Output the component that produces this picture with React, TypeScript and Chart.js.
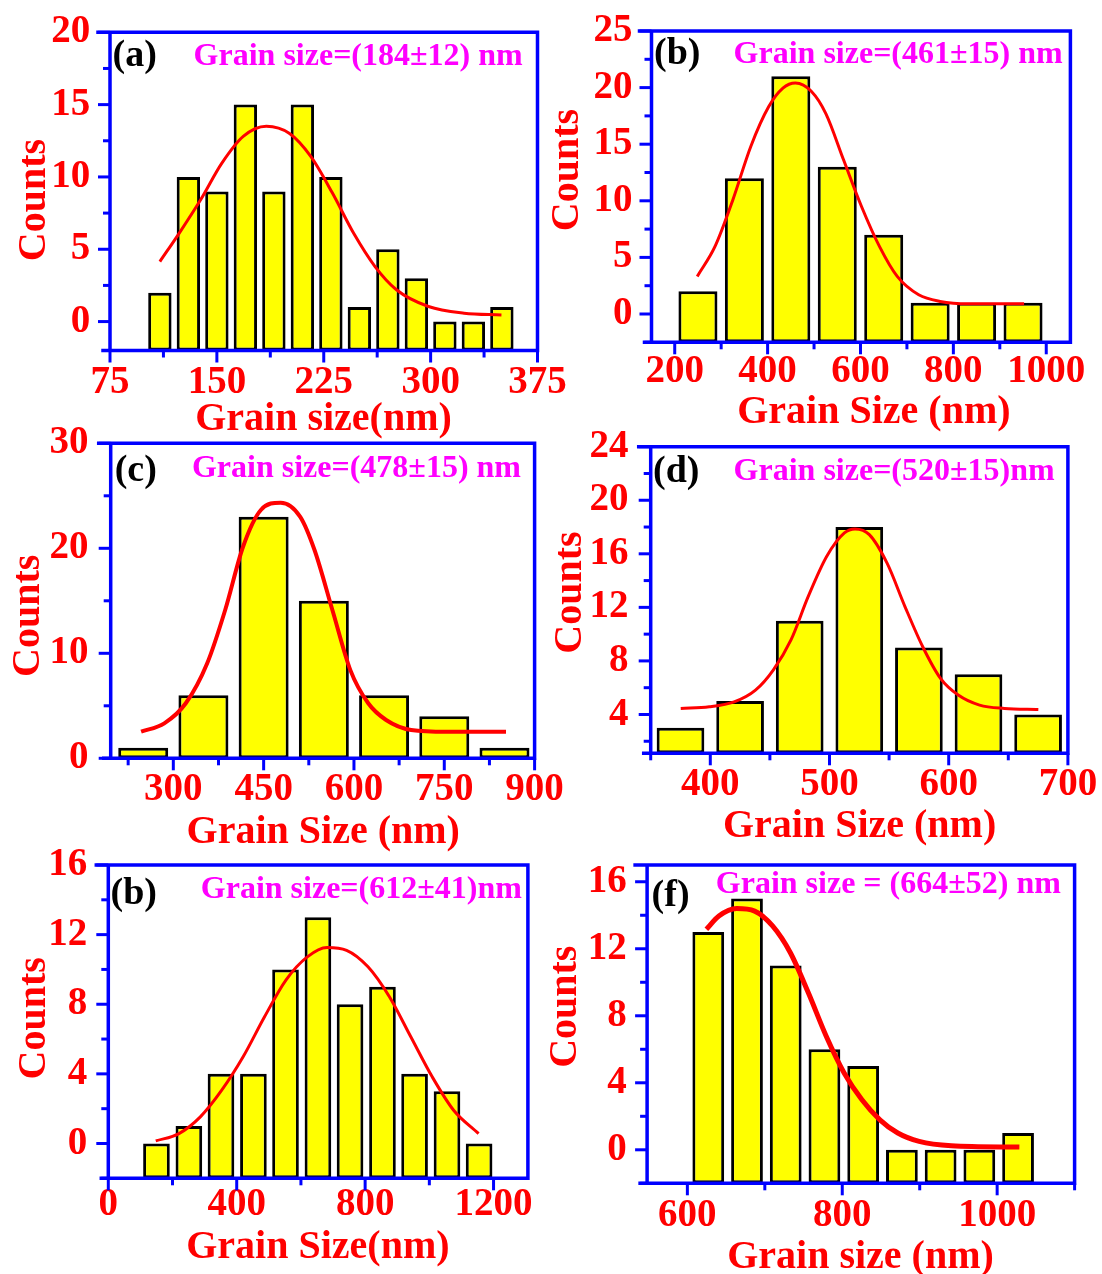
import React, { useEffect, useRef } from 'react';
import { Chart, registerables } from 'chart.js';

Chart.register(...registerables);

const W = 1102;
const H = 1274;
const FONT = "'Liberation Serif', 'Times New Roman', serif";
const BLUE = '#0000ff';
const RED = '#ff0000';
const MAGENTA = '#ff00ff';
const YELLOW = '#ffff00';

// (a) histogram and Gaussian fit
const sizesA = [110, 130, 150, 170, 190, 210, 230, 250, 270, 290, 310, 330, 350];
const countsA = [2, 10, 9, 15, 9, 15, 10, 1, 5, 3, 0, 0, 1];
const fitXA = [110, 123.5, 138.5, 153.5, 168.5, 184.7, 201, 216, 231, 246, 261, 276, 298.5, 323.5, 349.7];
const fitYA = [4.15, 6.1, 8.4, 10.95, 12.8, 13.5, 13.0, 11.4, 8.9, 6.1, 3.8, 2.2, 1.04, 0.58, 0.46];
const xTicksA = [75, 150, 225, 300, 375];
const yTicksA = [0, 5, 10, 15, 20];

// (b)
const sizesB = [250, 350, 450, 550, 650, 750, 850, 950];
const countsB = [2, 12, 21, 13, 7, 1, 1, 1];
const fitXB = [248.5, 286.8, 325.3, 363.8, 402.2, 433, 459.9, 494.5, 525.4, 563.7, 602.2, 640.8, 679.1, 725.3, 771.4, 833, 952.3];
const fitYB = [3.32, 5.97, 10.1, 14.8, 18.3, 19.95, 20.4, 19.65, 17.7, 13.6, 9.5, 5.97, 3.32, 1.7, 1.11, 0.9, 0.9];
const xTicksB = [200, 400, 600, 800, 1000];
const yTicksB = [0, 5, 10, 15, 20, 25];

// (c)
const sizesC = [250, 350, 450, 550, 650, 750, 850];
const countsC = [1, 6, 23, 15, 6, 4, 1];
const fitXC = [246.5, 285, 320.7, 356.3, 386, 415.8, 445.4, 478.2, 510.8, 534.5, 564.3, 594, 623.7, 653.4, 695, 754.4, 852.5];
const fitYC = [2.53, 3.33, 5.24, 9.05, 14.1, 20.15, 23.65, 24.35, 23.0, 19.84, 14.1, 8.4, 5.24, 3.65, 2.7, 2.53, 2.53];
const xTicksC = [300, 450, 600, 750, 900];
const yTicksC = [0, 10, 20, 30];

// (d)
const sizesD = [375, 425, 475, 525, 575, 625, 675];
const countsD = [3, 5, 11, 18, 9, 7, 4];
const fitXD = [375.2, 399.1, 420, 437.9, 452.8, 467.7, 482.1, 497.6, 512.5, 521.4, 533.4, 548.3, 563.3, 578.2, 593.1, 608, 625.9, 646.8, 675.2];
const fitYD = [4.45, 4.57, 4.94, 5.82, 7.32, 9.57, 12.8, 15.8, 17.56, 17.86, 17.43, 15.3, 12.06, 9.06, 6.7, 5.45, 4.7, 4.45, 4.37];
const xTicksD = [400, 500, 600, 700];
const yTicksD = [4, 8, 12, 16, 20, 24];

// (e) — tagged "(b)" on the figure
const sizesE = [150, 251, 351, 452, 552, 653, 753, 854, 954, 1055, 1155];
const countsE = [0, 1, 4, 4, 10, 13, 8, 9, 4, 3, 0];
const fitXE = [147.8, 220, 286.7, 353.3, 420, 486.7, 553.3, 620, 681.1, 742.2, 808.9, 875.6, 942.2, 1008.9, 1075.6, 1153.3];
const fitYE = [0.15, 0.57, 1.53, 3.06, 4.98, 7.28, 9.39, 10.72, 11.26, 11.1, 10.15, 8.43, 6.13, 3.83, 1.91, 0.57];
const xTicksE = [0, 400, 800, 1200];
const yTicksE = [0, 4, 8, 12, 16];

// (f)
const sizesF = [627, 677, 727, 777, 827, 877, 927, 977, 1027];
const countsF = [13, 15, 11, 6, 5, 0, 0, 0, 1];
const fitXF = [624.5, 640.7, 663.7, 686.9, 710, 733, 756.2, 779.3, 802.4, 825.4, 848.6, 871.7, 899.3, 940.9, 1028.7];
const fitYF = [13.16, 13.95, 14.4, 14.25, 13.36, 11.76, 9.37, 6.78, 4.59, 2.99, 1.79, 1.0, 0.5, 0.24, 0.16];
const xTicksF = [600, 800, 1000];
const yTicksF = [0, 4, 8, 12, 16];

type Panel = {
  key: string;
  sizes: number[];
  counts: number[];
  fitX: number[];
  fitY: number[];
  xTicks: number[];
  yTicks: number[];
  xRange: [number, number];
  yRange: [number, number];
  tag: string;
  note: string;
  xTitle: string;
  // plot box in page pixels: left, top, right, bottom
  box: [number, number, number, number];
  barFrac: number;
  lineW: number;
  tagAt: [number, number];
  noteAt: [number, number];
  xTitleAt: [number, number];
  yTitleAt: [number, number];
  yGap: number;
  xGap: number;
};

const panels: Panel[] = [
  {
    key: 'a', sizes: sizesA, counts: countsA, fitX: fitXA, fitY: fitYA, xTicks: xTicksA, yTicks: yTicksA,
    xRange: [75, 375], yRange: [-2, 20], tag: '(a)', note: 'Grain size=(184±12) nm', xTitle: 'Grain size(nm)',
    box: [110, 32.3, 537.5, 350.5], barFrac: 0.82, lineW: 3,
    tagAt: [112.5, 65.5], noteAt: [193.6, 65.3], xTitleAt: [323.5, 430], yTitleAt: [44.6, 200], yGap: 19.7, xGap: 8.6,
  },
  {
    key: 'b', sizes: sizesB, counts: countsB, fitX: fitXB, fitY: fitYB, xTicks: xTicksB, yTicks: yTicksB,
    xRange: [150, 1052], yRange: [-2.5, 25], tag: '(b)', note: 'Grain size=(461±15) nm', xTitle: 'Grain Size (nm)',
    box: [651.5, 31, 1070.4, 342.3], barFrac: 0.84, lineW: 3,
    tagAt: [654, 64], noteAt: [733.6, 63.3], xTitleAt: [873.9, 423.3], yTitleAt: [577.5, 170], yGap: 19, xGap: 6,
  },
  {
    key: 'c', sizes: sizesC, counts: countsC, fitX: fitXC, fitY: fitYC, xTicks: xTicksC, yTicks: yTicksC,
    xRange: [196, 900], yRange: [0, 30], tag: '(c)', note: 'Grain size=(478±15) nm', xTitle: 'Grain Size (nm)',
    box: [110.7, 443.3, 534.6, 758.3], barFrac: 0.83, lineW: 4,
    tagAt: [114.7, 481], noteAt: [191.9, 477], xTitleAt: [323.2, 843.3], yTitleAt: [38.6, 615.8], yGap: 22.2, xGap: 8.3,
  },
  {
    key: 'd', sizes: sizesD, counts: countsD, fitX: fitXD, fitY: fitYD, xTicks: xTicksD, yTicks: yTicksD,
    xRange: [350, 700], yRange: [1.1, 24], tag: '(d)', note: 'Grain size=(520±15)nm', xTitle: 'Grain Size (nm)',
    box: [650.7, 446.7, 1067.9, 753.3], barFrac: 0.8, lineW: 3,
    tagAt: [653, 482], noteAt: [733.6, 480], xTitleAt: [859.6, 836.7], yTitleAt: [581, 592.5], yGap: 22.2, xGap: 8.3,
  },
  {
    key: 'e', sizes: sizesE, counts: countsE, fitX: fitXE, fitY: fitYE, xTicks: xTicksE, yTicks: yTicksE,
    xRange: [0, 1307], yRange: [-2, 16], tag: '(b)', note: 'Grain size=(612±41)nm', xTitle: 'Grain Size(nm)',
    box: [108.3, 865, 527.9, 1178.3], barFrac: 0.83, lineW: 3,
    tagAt: [110.5, 904], noteAt: [200.8, 898.3], xTitleAt: [317.9, 1258.3], yTitleAt: [44.6, 1018.3], yGap: 21, xGap: 3.3,
  },
  {
    key: 'f', sizes: sizesF, counts: countsF, fitX: fitXF, fitY: fitYF, xTicks: xTicksF, yTicks: yTicksF,
    xRange: [548, 1100], yRange: [-2, 17], tag: '(f)', note: 'Grain size = (664±52) nm', xTitle: 'Grain size (nm)',
    box: [647.1, 865, 1074.6, 1183.3], barFrac: 0.82, lineW: 5,
    tagAt: [651.6, 906], noteAt: [715.8, 893.3], xTitleAt: [860.5, 1268.3], yTitleAt: [575.7, 1006.7], yGap: 20.4, xGap: 9.1,
  },
];

// Blue box with outward major/minor ticks, plus the panel's free text.
const panelFrame = {
  id: 'panelFrame',
  afterDatasetsDraw(chart: any) {
    const { ctx, chartArea: ca } = chart;
    const xs = chart.scales.x;
    const ys = chart.scales.y;
    ctx.save();
    ctx.strokeStyle = BLUE;
    ctx.lineCap = 'butt';
    ctx.lineWidth = 3;
    const ticksFor = (scale: any, horizontal: boolean) => {
      const vals = scale.ticks.map((t: any) => t.value);
      const half = (vals[1] - vals[0]) / 2;
      const first = vals[0];
      let v = first - Math.floor((first - scale.min) / half + 1e-6) * half;
      for (; v <= scale.max + 1e-6; v += half) {
        const k = Math.round((v - first) / half);
        const len = Math.abs(k % 2) === 1 ? 7 : 12;
        const p = scale.getPixelForValue(v);
        ctx.beginPath();
        if (horizontal) {
          ctx.moveTo(p, ca.bottom);
          ctx.lineTo(p, ca.bottom + len);
        } else {
          ctx.moveTo(ca.left, p);
          ctx.lineTo(ca.left - len, p);
        }
        ctx.stroke();
      }
    };
    ticksFor(xs, true);
    ticksFor(ys, false);

    // box edges; the horizontal edges run a little past the left axis
    ctx.lineWidth = 3.5;
    ctx.lineCap = 'square';
    ctx.beginPath();
    ctx.moveTo(ca.left - 12, ca.top);
    ctx.lineTo(ca.right, ca.top);
    ctx.lineTo(ca.right, ca.bottom);
    ctx.moveTo(ca.left - 7, ca.bottom);
    ctx.lineTo(ca.right, ca.bottom);
    ctx.moveTo(ca.left, ca.top);
    ctx.lineTo(ca.left, ca.bottom);
    ctx.stroke();
    ctx.restore();
  },
  afterDraw(chart: any, _args: any, o: any) {
    const { ctx } = chart;
    ctx.save();
    ctx.textBaseline = 'alphabetic';

    ctx.textAlign = 'left';
    ctx.fillStyle = '#000000';
    ctx.font = `bold 38px ${FONT}`;
    ctx.fillText(o.tag, o.tagAt[0], o.tagAt[1]);

    ctx.fillStyle = MAGENTA;
    ctx.font = `bold 32px ${FONT}`;
    ctx.fillText(o.note, o.noteAt[0], o.noteAt[1]);

    ctx.fillStyle = RED;
    ctx.font = `bold 40px ${FONT}`;
    ctx.textAlign = 'center';
    ctx.fillText(chart.scales.x.options.title.text, o.xTitleAt[0], o.xTitleAt[1]);

    ctx.translate(o.yTitleAt[0], o.yTitleAt[1]);
    ctx.rotate(-Math.PI / 2);
    ctx.fillText(chart.scales.y.options.title.text, 0, 0);
    ctx.restore();
  },
};

function buildConfig(p: Panel): any {
  const [L, T, R, B] = p.box;
  const yAxisW = 100;
  const xAxisH = 80;
  const tickFont = { family: FONT, size: 39, weight: 'bold' as const };
  return {
    type: 'bar',
    data: {
      datasets: [
        {
          type: 'line',
          data: p.fitX.map((x, i) => ({ x, y: p.fitY[i] })),
          borderColor: RED,
          borderWidth: p.lineW,
          pointRadius: 0,
          fill: false,
          cubicInterpolationMode: 'monotone',
          order: 0,
        },
        {
          type: 'bar',
          data: p.sizes.map((x, i) => ({ x, y: p.counts[i] })),
          backgroundColor: YELLOW,
          borderColor: '#000000',
          borderWidth: 3,
          borderSkipped: false,
          base: p.yRange[0],
          categoryPercentage: 1,
          barPercentage: p.barFrac,
          order: 1,
        },
      ],
    },
    options: {
      responsive: false,
      animation: false,
      devicePixelRatio: 1,
      layout: { padding: { left: L - yAxisW, top: T, right: W - R, bottom: H - B - xAxisH } },
      plugins: {
        legend: { display: false },
        tooltip: { enabled: false },
        title: { display: false },
        panelFrame: {
          tag: p.tag, note: p.note,
          tagAt: p.tagAt, noteAt: p.noteAt, xTitleAt: p.xTitleAt, yTitleAt: p.yTitleAt,
        },
      },
      scales: {
        x: {
          type: 'linear',
          offset: false,
          min: p.xRange[0],
          max: p.xRange[1],
          afterBuildTicks: (s: any) => { s.ticks = p.xTicks.map((v) => ({ value: v })); },
          afterFit: (s: any) => { s.height = xAxisH; s.paddingLeft = 0; s.paddingRight = 0; },
          grid: { display: false, drawTicks: false, offset: false },
          border: { display: false },
          title: { display: false, text: p.xTitle },
          ticks: {
            color: RED, font: tickFont, padding: p.xGap, autoSkip: false, maxRotation: 0, minRotation: 0,
            callback: (v: any) => String(v),
          },
        },
        y: {
          type: 'linear',
          min: p.yRange[0],
          max: p.yRange[1],
          afterBuildTicks: (s: any) => { s.ticks = p.yTicks.map((v) => ({ value: v })); },
          afterFit: (s: any) => { s.width = yAxisW; s.paddingTop = 0; s.paddingBottom = 0; },
          grid: { display: false, drawTicks: false },
          border: { display: false },
          title: { display: false, text: 'Counts' },
          ticks: {
            color: RED, font: tickFont, padding: p.yGap, autoSkip: false,
            callback: (v: any) => String(v),
          },
        },
      },
    },
    plugins: [panelFrame],
  };
}

function PanelChart({ panel }: { panel: Panel }) {
  const ref = useRef<HTMLCanvasElement | null>(null);
  useEffect(() => {
    if (!ref.current) return;
    const chart = new Chart(ref.current, buildConfig(panel));
    return () => chart.destroy();
  }, [panel]);
  return (
    <canvas
      ref={ref}
      width={W}
      height={H}
      style={{ position: 'absolute', left: 0, top: 0, width: W, height: H }}
    />
  );
}

export default function App() {
  return (
    <div style={{ position: 'absolute', left: 0, top: 0, width: W, height: H, background: '#ffffff', overflow: 'hidden' }}>
      {panels.map((p) => (
        <PanelChart key={p.key} panel={p} />
      ))}
    </div>
  );
}
